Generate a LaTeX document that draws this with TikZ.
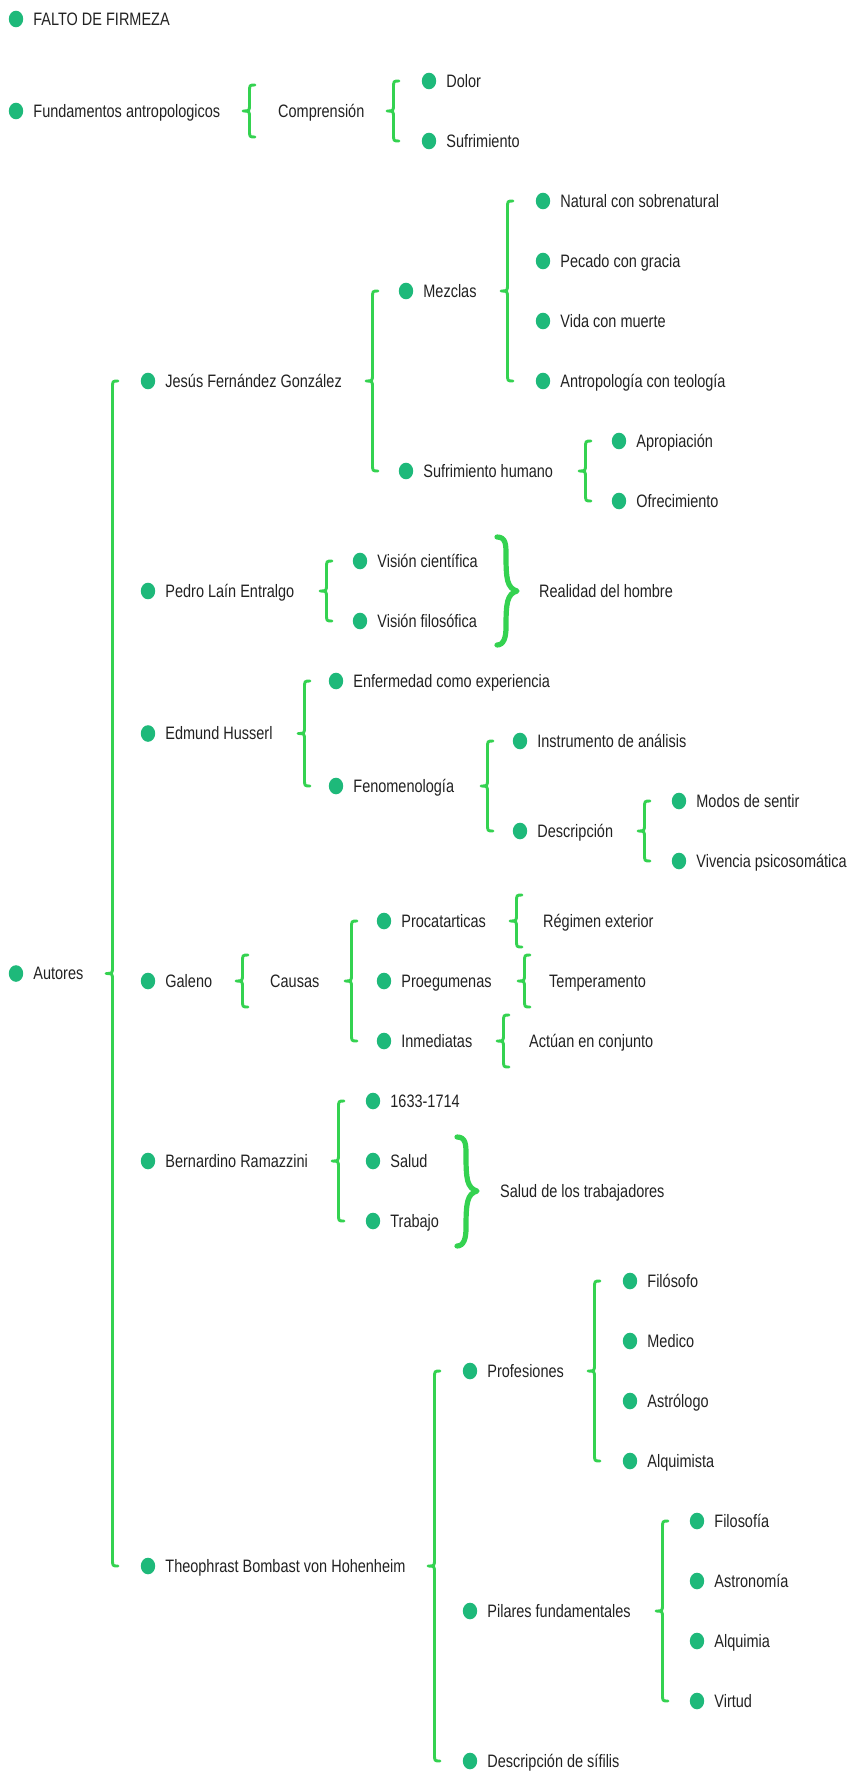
\documentclass[tikz,border=0pt]{standalone}
\usepackage{fontspec}
\setmainfont[FakeStretch=0.805]{Liberation Sans}
\usetikzlibrary{shapes.geometric,calc}
\definecolor{dotc}{RGB}{30,185,122}
\definecolor{brc}{RGB}{52,210,80}
\definecolor{txt}{RGB}{34,34,34}
\tikzset{
  dot/.style={ellipse,fill=dotc,draw=none,minimum width=14.4pt,minimum height=16.6pt,inner sep=0pt},
  lbl/.style={anchor=west,inner sep=0pt,text=txt,font=\fontsize{18}{20}\selectfont,text height=12.9pt,text depth=0pt},
  lbr/.style={draw=brc,line width=2.9pt,line cap=round,line join=round},
  rbr/.style={draw=brc,line width=5.2pt,line cap=round,line join=round}
}
\newcommand\nd[4]{\node[dot] (#1) at (#2,#3) {};\node[lbl] (#1-t) at ([xshift=9.8pt]#1.east) {#4};}
\newcommand\LBr[4]{\draw[lbr] let \p1=#2, \p2=#3, \p3=#4 in
 (#1pt+12pt,\y1) .. controls (#1pt+6.5pt,\y1) .. (#1pt+6.5pt,\y1-7pt) -- (#1pt+6.5pt,\y2+7pt)
 .. controls (#1pt+6.5pt,\y2) .. (#1pt,\y2) .. controls (#1pt+6.5pt,\y2) .. (#1pt+6.5pt,\y2-7pt)
 -- (#1pt+6.5pt,\y3+7pt) .. controls (#1pt+6.5pt,\y3) .. (#1pt+12pt,\y3);}
\newcommand\RBr[4]{\draw[rbr] let \p1=#2, \p2=#3, \p3=#4 in
 (#1pt,\y1) .. controls (#1pt+9pt,\y1) and (#1pt+9pt,\y1-8pt) .. (#1pt+9pt,\y1-18pt)
 .. controls (#1pt+9pt,\y2+12pt) and (#1pt+10pt,\y2+3pt) .. (#1pt+20pt,\y2)
 .. controls (#1pt+10pt,\y2-3pt) and (#1pt+9pt,\y2-12pt) .. (#1pt+9pt,\y3+18pt)
 .. controls (#1pt+9pt,\y3+8pt) and (#1pt+7pt,\y3) .. (#1pt,\y3);}
\begin{document}
\begin{tikzpicture}[x=1pt,y=-1pt]
\useasboundingbox (0,0) rectangle (865,1780);
% top
\nd{falto}{16}{19}{FALTO DE FIRMEZA}
\nd{fund}{16}{111}{Fundamentos antropologicos}
\node[lbl] (compr) at (278,111) {Comprensión};
\nd{dolor}{429}{81}{Dolor}
\nd{sufr}{429}{141}{Sufrimiento}
\LBr{243}{($(fund)+(0,-26)$)}{(fund)}{($(fund)+(0,26)$)}
\LBr{387}{(dolor)}{(compr.west -| dolor)}{(sufr)}
% Autores
\nd{autores}{16}{973.5}{Autores}
\nd{jesus}{148}{381}{Jesús Fernández González}
\nd{pedro}{148}{591}{Pedro Laín Entralgo}
\nd{edmund}{148}{733.5}{Edmund Husserl}
\nd{galeno}{148}{981}{Galeno}
\nd{ramaz}{148}{1161}{Bernardino Ramazzini}
\nd{theo}{148}{1566}{Theophrast Bombast von Hohenheim}
\LBr{106}{(jesus)}{(autores)}{(theo)}
% Jesus
\nd{mezclas}{406}{291}{Mezclas}
\nd{sufh}{406}{471}{Sufrimiento humano}
\LBr{366}{(mezclas)}{(jesus)}{(sufh)}
\nd{natural}{543}{201}{Natural con sobrenatural}
\nd{pecado}{543}{261}{Pecado con gracia}
\nd{vida}{543}{321}{Vida con muerte}
\nd{antro}{543}{381}{Antropología con teología}
\LBr{501}{(natural)}{(mezclas)}{(antro)}
\nd{aprop}{619}{441}{Apropiación}
\nd{ofrec}{619}{501}{Ofrecimiento}
\LBr{579}{(aprop)}{(sufh)}{(ofrec)}
% Pedro
\nd{vcien}{360}{561}{Visión científica}
\nd{vfilo}{360}{621}{Visión filosófica}
\LBr{320}{(vcien)}{(pedro)}{(vfilo)}
\node[lbl] (realidad) at (539,591) {Realidad del hombre};
\RBr{497}{($(vcien)+(0,-24)$)}{(realidad.west)}{($(vfilo)+(0,24)$)}
% Edmund
\nd{enferm}{336}{681}{Enfermedad como experiencia}
\nd{fenom}{336}{786}{Fenomenología}
\LBr{298}{(enferm)}{(edmund)}{(fenom)}
\nd{instr}{520}{741}{Instrumento de análisis}
\nd{descr}{520}{831}{Descripción}
\LBr{481}{(instr)}{(fenom)}{(descr)}
\nd{modos}{679}{801}{Modos de sentir}
\nd{viven}{679}{861}{Vivencia psicosomática}
\LBr{638}{(modos)}{(descr)}{(viven)}
% Galeno
\node[lbl] (causas) at (270,981) {Causas};
\LBr{236}{($(galeno)+(0,-26)$)}{(galeno)}{($(galeno)+(0,26)$)}
\nd{proca}{384}{921}{Procatarticas}
\nd{proeg}{384}{981}{Proegumenas}
\nd{inmed}{384}{1041}{Inmediatas}
\LBr{345}{(proca)}{(galeno)}{(inmed)}
\node[lbl] (regimen) at (543,921) {Régimen exterior};
\node[lbl] (temper) at (549,981) {Temperamento};
\node[lbl] (actuan) at (529,1041) {Actúan en conjunto};
\LBr{510}{($(proca)+(0,-26)$)}{(proca)}{($(proca)+(0,26)$)}
\LBr{518}{($(proeg)+(0,-26)$)}{(proeg)}{($(proeg)+(0,26)$)}
\LBr{497}{($(inmed)+(0,-26)$)}{(inmed)}{($(inmed)+(0,26)$)}
% Ramazzini
\nd{anio}{373}{1101}{1633-1714}
\nd{salud}{373}{1161}{Salud}
\nd{trab}{373}{1221}{Trabajo}
\LBr{332}{(anio)}{(ramaz)}{(trab)}
\node[lbl] (saludtrab) at (500,1191) {Salud de los trabajadores};
\RBr{457}{($(salud)+(0,-24)$)}{(saludtrab.west)}{($(trab)+(0,25)$)}
% Theophrast
\nd{prof}{470}{1371}{Profesiones}
\nd{pilares}{470}{1611}{Pilares fundamentales}
\nd{sifilis}{470}{1761}{Descripción de sífilis}
\LBr{428}{(prof)}{(theo)}{(sifilis)}
\nd{filosofo}{630}{1281}{Filósofo}
\nd{medico}{630}{1341}{Medico}
\nd{astrologo}{630}{1401}{Astrólogo}
\nd{alquimista}{630}{1461}{Alquimista}
\LBr{588}{(filosofo)}{(prof)}{(alquimista)}
\nd{filosofia}{697}{1521}{Filosofía}
\nd{astronomia}{697}{1581}{Astronomía}
\nd{alquimia}{697}{1641}{Alquimia}
\nd{virtud}{697}{1701}{Virtud}
\LBr{656}{(filosofia)}{(pilares)}{(virtud)}
\end{tikzpicture}
\end{document}
